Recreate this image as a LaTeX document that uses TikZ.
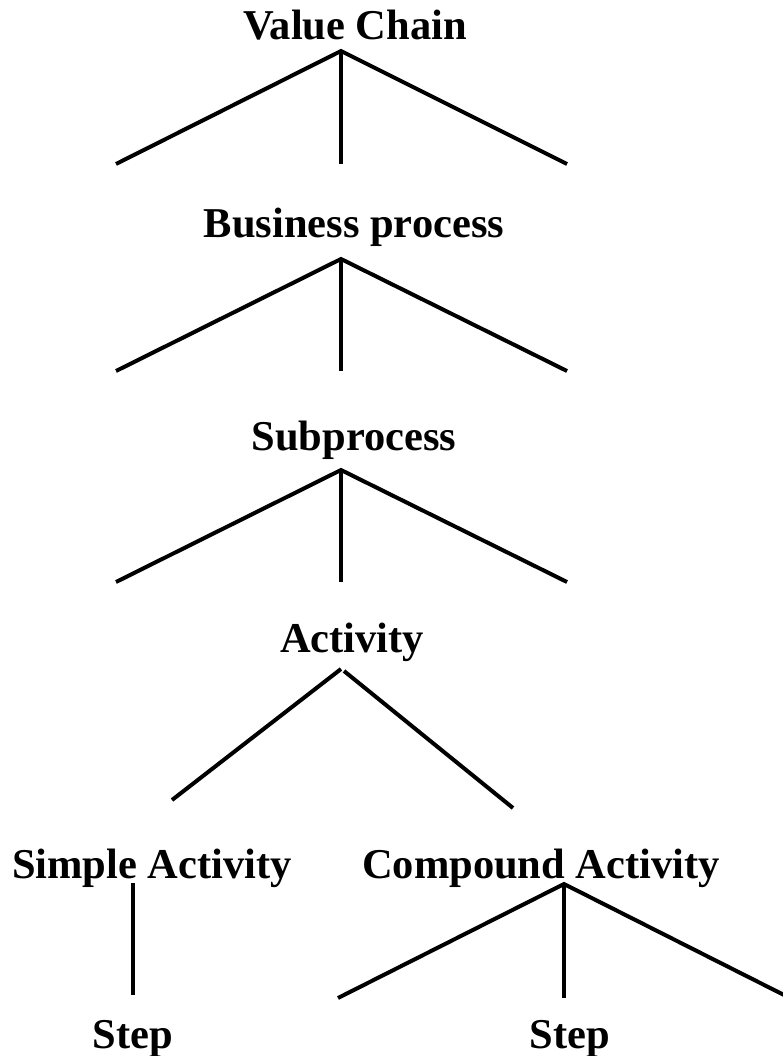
\documentclass[tikz,border=0pt]{standalone}
\usepackage{fontspec}
\setmainfont{Liberation Serif}
\begin{document}
\begin{tikzpicture}[x=1pt,y=-1pt,
  label/.style={anchor=base,inner sep=0pt,font=\fontsize{42.5}{50}\selectfont\bfseries},
  branch/.style={line width=4pt,line cap=butt}]
\useasboundingbox (0,0) rectangle (783,1056);

% level labels
\node[label] (vc)   at (355,40)  {Value Chain};
\node[label] (bp)   at (354,238) {Business process};
\node[label] (sp)   at (354,450) {Subprocess};
\node[label] (act)  at (352,652) {Activity};
\node[label] (sa)   at (152,878) {Simple Activity};
\node[label] (ca)   at (541,878) {Compound Activity};
\node[label] (st1)  at (133,1048) {Step};
\node[label] (st2)  at (570,1048) {Step};

% three-way forks under the upper levels
\foreach \n/\top/\bot in {a/51/164, b/259/371, c/470/582}{
  \coordinate (\n0) at (341,\top);
  \coordinate (\n1) at (116,\bot);
  \coordinate (\n2) at (341,\bot);
  \coordinate (\n3) at (567,\bot);
  \draw[branch] (\n1) -- (\n0) -- (\n3);
  \draw[branch] (\n0) -- (\n2);
}

% activity splits into simple and compound
\coordinate (d0l) at (341,669);
\coordinate (d0r) at (344,671);
\coordinate (d1)  at (172,800);
\coordinate (d2)  at (513,808);
\draw[branch] (d0l) -- (d1);
\draw[branch] (d0r) -- (d2);

% simple activity has a single step
\coordinate (e0) at (133,883);
\coordinate (e1) at (133,995);
\draw[branch] (e0) -- (e1);

% compound activity fans out into steps
\coordinate (f0) at (564,884);
\coordinate (f1) at (338,998);
\coordinate (f2) at (564,998);
\coordinate (f3) at (790,998);
\draw[branch] (f1) -- (f0) -- (f3);
\draw[branch] (f0) -- (f2);
\end{tikzpicture}
\end{document}
